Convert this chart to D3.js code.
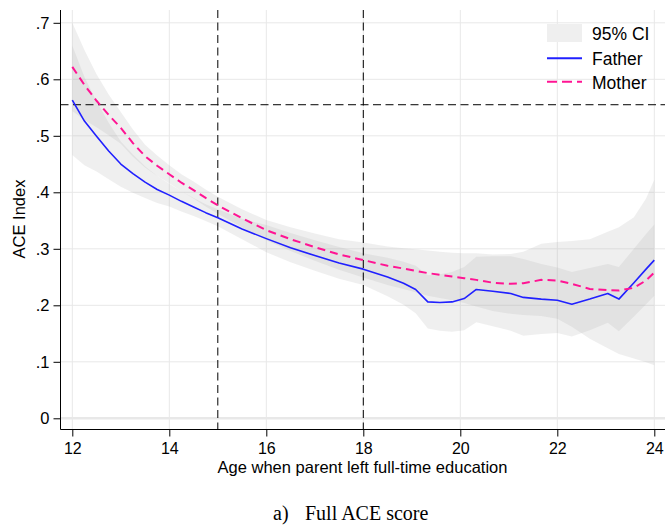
<!DOCTYPE html>
<html>
<head>
<meta charset="utf-8">
<script src="https://cdn.jsdelivr.net/npm/d3@7"></script>
<style>
  body { margin: 0; background: #fff; }
  text { font-family: "Liberation Sans", Arial, sans-serif; fill: #000; }
  .caption { font-family: "Liberation Serif", "Times New Roman", serif; }
</style>
</head>
<body>
<div id="chart"></div>
<script>

// age when parent left education (x values)
var ages = [12, 12.25, 12.5, 12.75, 13, 13.25, 13.5, 13.75, 14, 14.25, 14.5, 14.75, 15, 15.5, 16, 16.5, 17, 17.5,
  18, 18.5, 18.83, 19.08, 19.33, 19.58, 19.83, 20.08, 20.33, 20.67, 21.04, 21.3, 21.67, 22, 22.3, 22.67,
  23.04, 23.27, 23.58, 23.83, 24];

// father: predicted ACE index and 95% CI
var father = [.563, .526, .499, .473, .450, .433, .418, .405, .395, .384, .374, .364, .355, .335, .318, .302, .288, .275,
  .264, .250, .239, .228, .206, .205, .206, .212, .228, .225, .221, .214, .211, .209, .202, .211,
  .221, .211, .240, .264, .280];
var fatherLo = [.466, .448, .437, .423, .410, .399, .390, .381, .375, .366, .358, .349, .340, .317, .294, .276, .261, .247,
  .236, .216, .201, .186, .159, .155, .153, .156, .170, .163, .155, .146, .149, .151, .145, .156,
  .169, .154, .180, .202, .217];
var fatherHi = [.660, .604, .561, .523, .490, .467, .446, .429, .415, .402, .390, .379, .370, .353, .342, .328, .315, .303,
  .292, .284, .277, .270, .253, .255, .259, .268, .286, .287, .287, .282, .273, .267, .259, .266,
  .273, .268, .300, .326, .343];

// mother: predicted ACE index and 95% CI
var mother = [.622, .590, .562, .537, .514, .487, .464, .447, .432, .417, .404, .390, .377, .354, .333, .317, .303, .290,
  .280, .270, .265, .261, .257, .254, .251, .248, .245, .240, .238, .239, .245, .244, .238, .229,
  .227, .226, .231, .244, .258];
var motherLo = [.544, .528, .515, .501, .486, .463, .444, .429, .416, .402, .389, .375, .362, .338, .315, .296, .279, .263,
  .249, .236, .229, .223, .217, .213, .209, .204, .198, .190, .185, .183, .181, .176, .162, .141,
  .124, .114, .106, .099, .094];
var motherHi = [.700, .652, .609, .573, .542, .511, .484, .465, .448, .432, .419, .405, .392, .370, .351, .338, .327, .317,
  .311, .304, .301, .299, .297, .295, .293, .292, .292, .290, .291, .295, .309, .312, .314, .317,
  .330, .338, .356, .389, .422];

// axes + reference lines
var xTicks = [12, 14, 16, 18, 20, 22, 24];
var yTicks = [0, .1, .2, .3, .4, .5, .6, .7];
var yTickLabels = ["0", ".1", ".2", ".3", ".4", ".5", ".6", ".7"];
var refAges = [15, 18];
var refLevel = 0.555;
var legendLabels = ["95% CI", "Father", "Mother"];

var width = 665,
    height = 526,
    plot = {left: 60.5, top: 10, right: 665, bottom: 429.5};

var blue = "#2020ff",
    pink = "#ff1493";

var svg = d3.select("#chart").append("svg")
    .attr("width", width)
    .attr("height", height);

var x = d3.scaleLinear()
    .domain([12, 24])
    .range([72.3, 654.3]);

var y = d3.scaleLinear()
    .domain([0, 0.7])
    .range([418.3, 22.8]);

// gridlines
svg.append("g").selectAll("line").data(yTicks).enter().append("line")
    .attr("x1", plot.left)
    .attr("x2", plot.right)
    .attr("y1", function(d) { return y(d); })
    .attr("y2", function(d) { return y(d); })
    .attr("stroke", "#e8e8e8")
    .attr("stroke-width", function(d) { return d === 0 ? 2.5 : 1; });

svg.append("g").selectAll("line").data(xTicks).enter().append("line")
    .attr("x1", function(d) { return x(d); })
    .attr("x2", function(d) { return x(d); })
    .attr("y1", plot.top)
    .attr("y2", plot.bottom)
    .attr("stroke", "#e8e8e8")
    .attr("stroke-width", 1);

// build rows for the area/line generators
var fatherRows = ages.map(function(a, i) { return {age: a, v: father[i], lo: fatherLo[i], hi: fatherHi[i]}; });
var motherRows = ages.map(function(a, i) { return {age: a, v: mother[i], lo: motherLo[i], hi: motherHi[i]}; });

var band = d3.area()
    .x(function(d) { return x(d.age); })
    .y0(function(d) { return y(d.lo); })
    .y1(function(d) { return y(d.hi); });

var line = d3.line()
    .x(function(d) { return x(d.age); })
    .y(function(d) { return y(d.v); });

// confidence bands, overlap gets darker
[fatherRows, motherRows].forEach(function(rows) {
  svg.append("path")
      .datum(rows)
      .attr("d", band)
      .attr("fill", "#aaaaaa")
      .attr("fill-opacity", 0.19);
});

// reference lines
svg.append("g").selectAll("line").data(refAges).enter().append("line")
    .attr("x1", function(d) { return x(d); })
    .attr("x2", function(d) { return x(d); })
    .attr("y1", plot.top)
    .attr("y2", plot.bottom)
    .attr("stroke", "#000")
    .attr("stroke-dasharray", "8,4.5");

svg.append("line")
    .attr("x1", plot.left)
    .attr("x2", plot.right)
    .attr("y1", y(refLevel))
    .attr("y2", y(refLevel))
    .attr("stroke", "#000")
    .attr("stroke-dasharray", "8,4.5");

// father / mother lines
svg.append("path")
    .datum(fatherRows)
    .attr("d", line)
    .attr("fill", "none")
    .attr("stroke", blue)
    .attr("stroke-width", 1.6)
    .attr("stroke-linejoin", "round");

svg.append("path")
    .datum(motherRows)
    .attr("d", line)
    .attr("fill", "none")
    .attr("stroke", pink)
    .attr("stroke-width", 2)
    .attr("stroke-dasharray", "8,5");

// axes
var yAxis = d3.axisLeft(y)
    .tickValues(yTicks)
    .tickFormat(function(d, i) { return yTickLabels[i]; })
    .tickSize(7)
    .tickPadding(4);

var xAxis = d3.axisBottom(x)
    .tickValues(xTicks)
    .tickFormat(d3.format("d"))
    .tickSize(7)
    .tickPadding(6);

var gy = svg.append("g")
    .attr("transform", "translate(" + plot.left + ",0)")
    .call(yAxis);

var gx = svg.append("g")
    .attr("transform", "translate(0," + plot.bottom + ")")
    .call(xAxis);

[gx, gy].forEach(function(g) {
  g.select(".domain").remove();
  g.selectAll("line").attr("stroke", "#000");
  g.selectAll("text").attr("font-size", 16.5).attr("font-family", "Liberation Sans, Arial, sans-serif").attr("fill", "#000");
});
gx.selectAll("text").attr("font-size", 16);

svg.append("line")
    .attr("x1", plot.left).attr("x2", plot.left)
    .attr("y1", plot.top).attr("y2", plot.bottom)
    .attr("stroke", "#000");

svg.append("line")
    .attr("x1", plot.left).attr("x2", plot.right)
    .attr("y1", plot.bottom).attr("y2", plot.bottom)
    .attr("stroke", "#000");

// axis titles
svg.append("text")
    .attr("transform", "translate(25,219) rotate(-90)")
    .style("text-anchor", "middle")
    .attr("font-size", 16.5)
    .text("ACE Index");

svg.append("text")
    .attr("x", 362.5)
    .attr("y", 473)
    .style("text-anchor", "middle")
    .attr("font-size", 16.5)
    .text("Age when parent left full-time education");

// legend
var legend = svg.append("g").attr("transform", "translate(547,0)");

legend.append("rect")
    .attr("x", 0).attr("y", 24)
    .attr("width", 35).attr("height", 18)
    .attr("fill", "#efefef");

legend.append("line")
    .attr("x1", 0).attr("x2", 35)
    .attr("y1", 58.3).attr("y2", 58.3)
    .attr("stroke", blue)
    .attr("stroke-width", 2);

legend.append("line")
    .attr("x1", 0).attr("x2", 35)
    .attr("y1", 81.7).attr("y2", 81.7)
    .attr("stroke", pink)
    .attr("stroke-width", 2)
    .attr("stroke-dasharray", "10,5");

legend.selectAll(".lab").data(legendLabels).enter().append("text")
    .attr("class", "lab")
    .attr("x", 45)
    .attr("y", function(d, i) { return [39.5, 64.5, 88.5][i]; })
    .attr("font-size", 17.5)
    .text(function(d) { return d; });

// caption
svg.append("text")
    .attr("class", "caption")
    .attr("x", 273)
    .attr("y", 520)
    .attr("font-size", 20)
    .text("a)");

svg.append("text")
    .attr("class", "caption")
    .attr("x", 305)
    .attr("y", 520)
    .attr("font-size", 20)
    .text("Full ACE score");

</script>
</body>
</html>
